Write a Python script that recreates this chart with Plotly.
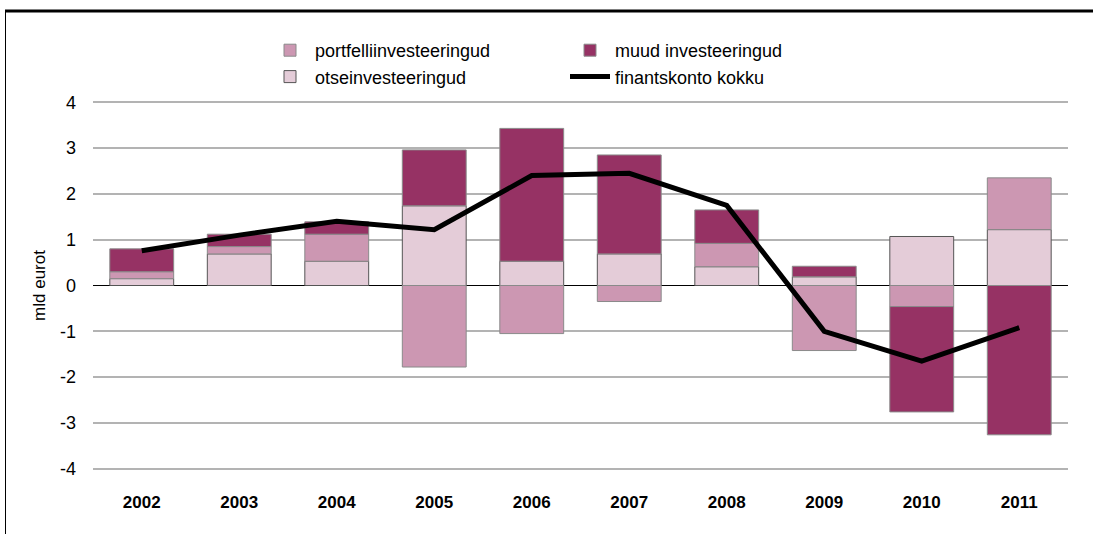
import plotly.graph_objects as go

years = ["2002", "2003", "2004", "2005", "2006", "2007", "2008", "2009", "2010", "2011"]
otse = [0.15, 0.69, 0.53, 1.74, 0.53, 0.69, 0.41, 0.19, 1.07, 1.22]
portf = [0.15, 0.16, 0.59, -1.78, -1.05, -0.35, 0.51, -1.42, -0.46, 1.13]
muud = [0.50, 0.27, 0.27, 1.22, 2.90, 2.16, 0.73, 0.23, -2.30, -3.26]
kokku = [0.76, 1.10, 1.40, 1.22, 2.40, 2.45, 1.75, -1.00, -1.65, -0.92]
y_tickvals = [-4, -3, -2, -1, 0, 1, 2, 3, 4]
y_ticktext = ["-4", "-3", "-2", "-1", "0", "1", "2", "3", "4"]

c_otse = "#E4CCD8"
c_portf = "#CC97B2"
c_muud = "#963264"
font_family = "Liberation Sans, Arial, sans-serif"

fig = go.Figure()
fig.add_trace(go.Bar(x=years, y=otse, name="otseinvesteeringud",
                     marker=dict(color=c_otse, line=dict(color="#555555", width=1)), legend="legend"))
fig.add_trace(go.Bar(x=years, y=portf, name="portfelliinvesteeringud",
                     marker=dict(color=c_portf, line=dict(color="#8a8a8a", width=1)), legend="legend"))
fig.add_trace(go.Bar(x=years, y=muud, name="muud investeeringud",
                     marker=dict(color=c_muud, line=dict(color="#8a8a8a", width=1)), legend="legend2"))
fig.add_trace(go.Scatter(x=years, y=kokku, name="finantskonto kokku", mode="lines",
                         line=dict(color="black", width=5), legend="legend2"))

L, R, T, B = 93, 25, 100, 63
W, H = 1093, 534
pw, ph = W - L - R, H - T - B


def px_x(x):
    return (x - L) / pw


def px_y(y):
    return (H - B - y) / ph


fig.update_layout(
    width=W, height=H,
    margin=dict(l=L, r=R, t=T, b=B, autoexpand=False),
    paper_bgcolor="white", plot_bgcolor="white",
    barmode="relative", bargap=0.345,
    font=dict(family=font_family, size=18, color="black"),
    showlegend=True,
    legend=dict(x=px_x(265), y=px_y(32), xanchor="left", yanchor="top", orientation="v",
                traceorder="reversed", itemwidth=40, font=dict(size=18), bgcolor="rgba(0,0,0,0)",
                tracegroupgap=0),
    legend2=dict(x=px_x(565), y=px_y(32), xanchor="left", yanchor="top", orientation="v",
                 traceorder="normal", itemwidth=40, font=dict(size=18), bgcolor="rgba(0,0,0,0)",
                 tracegroupgap=0),
    xaxis=dict(showgrid=False, showline=False, ticks="",
               tickfont=dict(size=17, family=font_family, weight="bold"),
               ticklabelstandoff=19),
    yaxis=dict(range=[-4.05, 4.05], tickmode="array", tickvals=y_tickvals, ticktext=y_ticktext,
               showgrid=True, gridcolor="#b3b3b3", gridwidth=1.5,
               zeroline=True, zerolinecolor="black", zerolinewidth=1.2, showline=False,
               ticklabelstandoff=16, tickfont=dict(size=18),
               title=dict(text="mld eurot", font=dict(size=17), standoff=10)),
    shapes=[
        dict(type="line", xref="paper", yref="paper", x0=px_x(5), x1=px_x(1093), y0=px_y(11), y1=px_y(11),
             line=dict(color="black", width=3)),
        dict(type="line", xref="paper", yref="paper", x0=px_x(5.5), x1=px_x(5.5), y0=px_y(11), y1=px_y(534),
             line=dict(color="black", width=1)),
    ],
)

fig.write_html("out.html", config={"displayModeBar": False},
               post_script="document.body.style.margin='0';document.body.style.overflow='hidden';")
